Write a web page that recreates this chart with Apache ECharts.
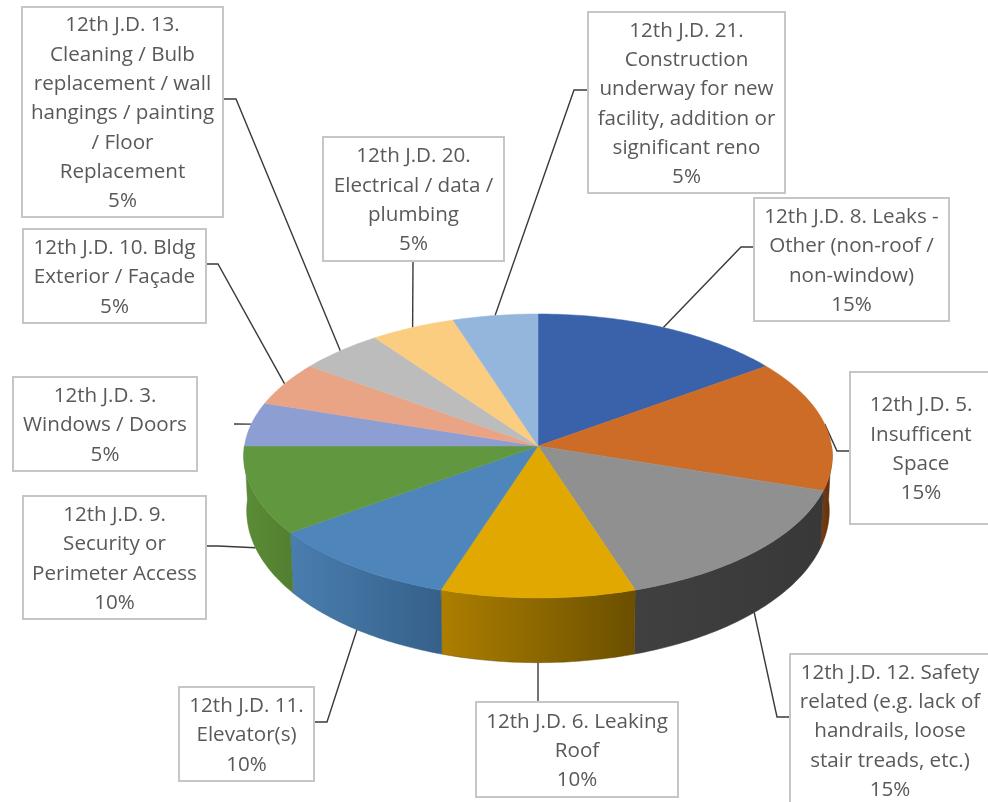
<!DOCTYPE html>
<html>
<head>
<meta charset="utf-8">
<title>12th J.D. pie</title>
<script src="https://cdn.jsdelivr.net/npm/echarts@6/dist/echarts.min.js"></script>
<style>
html, body { margin: 0; padding: 0; background: #fff; }
#chart { width: 988px; height: 802px; }
</style>
</head>
<body>
<div id="chart"></div>
<script>
// slices, clockwise from 12 o'clock
const names = [
  '12th J.D. 8. Leaks -\nOther (non-roof /\nnon-window)',
  '12th J.D. 5.\nInsufficent\nSpace',
  '12th J.D. 12. Safety\nrelated (e.g. lack of\nhandrails, loose\nstair treads, etc.)',
  '12th J.D. 6. Leaking\nRoof',
  '12th J.D. 11.\nElevator(s)',
  '12th J.D. 9.\nSecurity or\nPerimeter Access',
  '12th J.D. 3.\nWindows / Doors',
  '12th J.D. 10. Bldg\nExterior / Façade',
  '12th J.D. 13.\nCleaning / Bulb\nreplacement / wall\nhangings / painting\n/ Floor\nReplacement',
  '12th J.D. 20.\nElectrical / data /\nplumbing',
  '12th J.D. 21.\nConstruction\nunderway for new\nfacility, addition or\nsignificant reno'
]
const values = [15, 15, 15, 10, 10, 10, 5, 5, 5, 5, 5]

const topColors = ['#3a62ab', '#cc6c27', '#909090', '#e0a800', '#4e86bb', '#61983f', '#8d9fd2', '#e9a485', '#bcbcbc', '#fbcd80', '#94b6dc']
const sideColors = [
  ['#2b4980', '#2b4980'], ['#7a3f12', '#5a2d0a'], ['#404040', '#383838'], ['#ad7f00', '#6b4f00'],
  ['#4a7eaf', '#35608a'], ['#5b8c37', '#527f30'], ['#6a7ca8', '#6a7ca8'], ['#b07c60', '#b07c60'],
  ['#8c8c8c', '#8c8c8c'], ['#bd9a60', '#bd9a60'], ['#6f89a6', '#6f89a6']
]

// label boxes, outer edge: x, y, w, h
const boxes = [
  [753, 197, 197, 125], [849, 371, 144, 154], [789, 653, 202, 154], [475, 701, 204, 97],
  [178, 686, 137, 96], [22, 495, 185, 125], [12, 376, 186, 96], [22, 228, 185, 96],
  [21, 6, 203, 212], [322, 136, 183, 126], [587, 11, 199, 183]
]
// leader points after the rim anchor
const leaders = [
  [[741, 247], [753, 247]], [[837, 451], [849, 451]], [[777, 717], [789, 717]], [[538, 701]],
  [[327, 722], [315, 722]], [[218, 546], [207, 546]], [[234, 424]], [[218, 264], [207, 264]],
  [[236, 99], [224, 99]], [[413, 262]], [[574, 90], [587, 90]]
]

// projection of the tilted disc
const cx = 538, cy = 446, rx = 293.5, ry = 141.3, persp = 0.0704
const depth = 54, bottomX = 0.99, bottomY = 1.07

function rim(deg, bottom) {
  const a = deg * Math.PI / 180
  const u = Math.sin(a), v = -Math.cos(a)
  const s = 1 / (1 - persp * v)
  if (bottom) return [cx + rx * u * s * bottomX, cy + depth + ry * v * s * bottomY]
  return [cx + rx * u * s, cy + ry * v * s]
}

const total = values.reduce((a, b) => a + b, 0)
const starts = []
values.reduce((acc, v, i) => { starts[i] = acc; return acc + v }, 0)
const startDeg = i => starts[i] / total * 360
const endDeg = i => (starts[i] + values[i]) / total * 360

function arc(a0, a1, bottom) {
  const pts = []
  const n = Math.max(2, Math.ceil(a1 - a0))
  for (let k = 0; k <= n; k++) pts.push(rim(a0 + (a1 - a0) * k / n, bottom))
  return pts
}

function renderSide(params) {
  const i = params.dataIndex
  const a0 = Math.max(startDeg(i), 90), a1 = Math.min(endDeg(i), 270)
  if (a1 <= a0) return null
  const pts = arc(a0, a1, false).concat(arc(a0, a1, true).reverse())
  const fill = new echarts.graphic.LinearGradient(0, 0, 1, 0, [
    { offset: 0, color: sideColors[i][0] }, { offset: 1, color: sideColors[i][1] }
  ])
  return { type: 'polygon', shape: { points: pts }, style: { fill: fill, stroke: sideColors[i][1], lineWidth: 0.5 } }
}

function renderTop(params) {
  const i = params.dataIndex
  const pts = [[cx, cy]].concat(arc(startDeg(i), endDeg(i), false))
  return { type: 'polygon', shape: { points: pts }, style: { fill: topColors[i], stroke: topColors[i], lineWidth: 0.5 } }
}

function renderLeader(params) {
  const i = params.dataIndex
  const mid = (startDeg(i) + endDeg(i)) / 2
  const lower = mid > 90 && mid < 270
  return {
    type: 'polyline',
    shape: { points: [rim(mid, lower)].concat(leaders[i]) },
    style: { fill: null, stroke: '#3a3a3a', lineWidth: 1.4 }
  }
}

function renderBox(params, api) {
  const i = params.dataIndex
  const b = boxes[i]
  return {
    type: 'group',
    children: [
      {
        type: 'rect',
        shape: { x: b[0] + 1, y: b[1] + 1, width: b[2] - 2, height: b[3] - 2 },
        style: { fill: '#fff', stroke: '#c6c6c6', lineWidth: 2 }
      },
      {
        type: 'text',
        style: {
          x: b[0] + b[2] / 2, y: b[1] + b[3] / 2 + 1.5,
          text: names[i] + '\n' + api.value(0) + '%',
          align: 'center', verticalAlign: 'middle',
          fontFamily: 'Open Sans', fontSize: 20.6, lineHeight: 29.3, fill: '#595959'
        }
      }
    ]
  }
}

const custom = (renderItem, z) => ({
  type: 'custom', coordinateSystem: 'none', renderItem, z, silent: true, animation: false,
  data: values.map((v, i) => ({ name: names[i], value: [v] }))
})

const chart = echarts.init(document.getElementById('chart'), null, { renderer: 'canvas' })
chart.setOption({
  backgroundColor: '#fff',
  animation: false,
  series: [custom(renderLeader, 1), custom(renderSide, 2), custom(renderTop, 3), custom(renderBox, 4)]
})
</script>
</body>
</html>
